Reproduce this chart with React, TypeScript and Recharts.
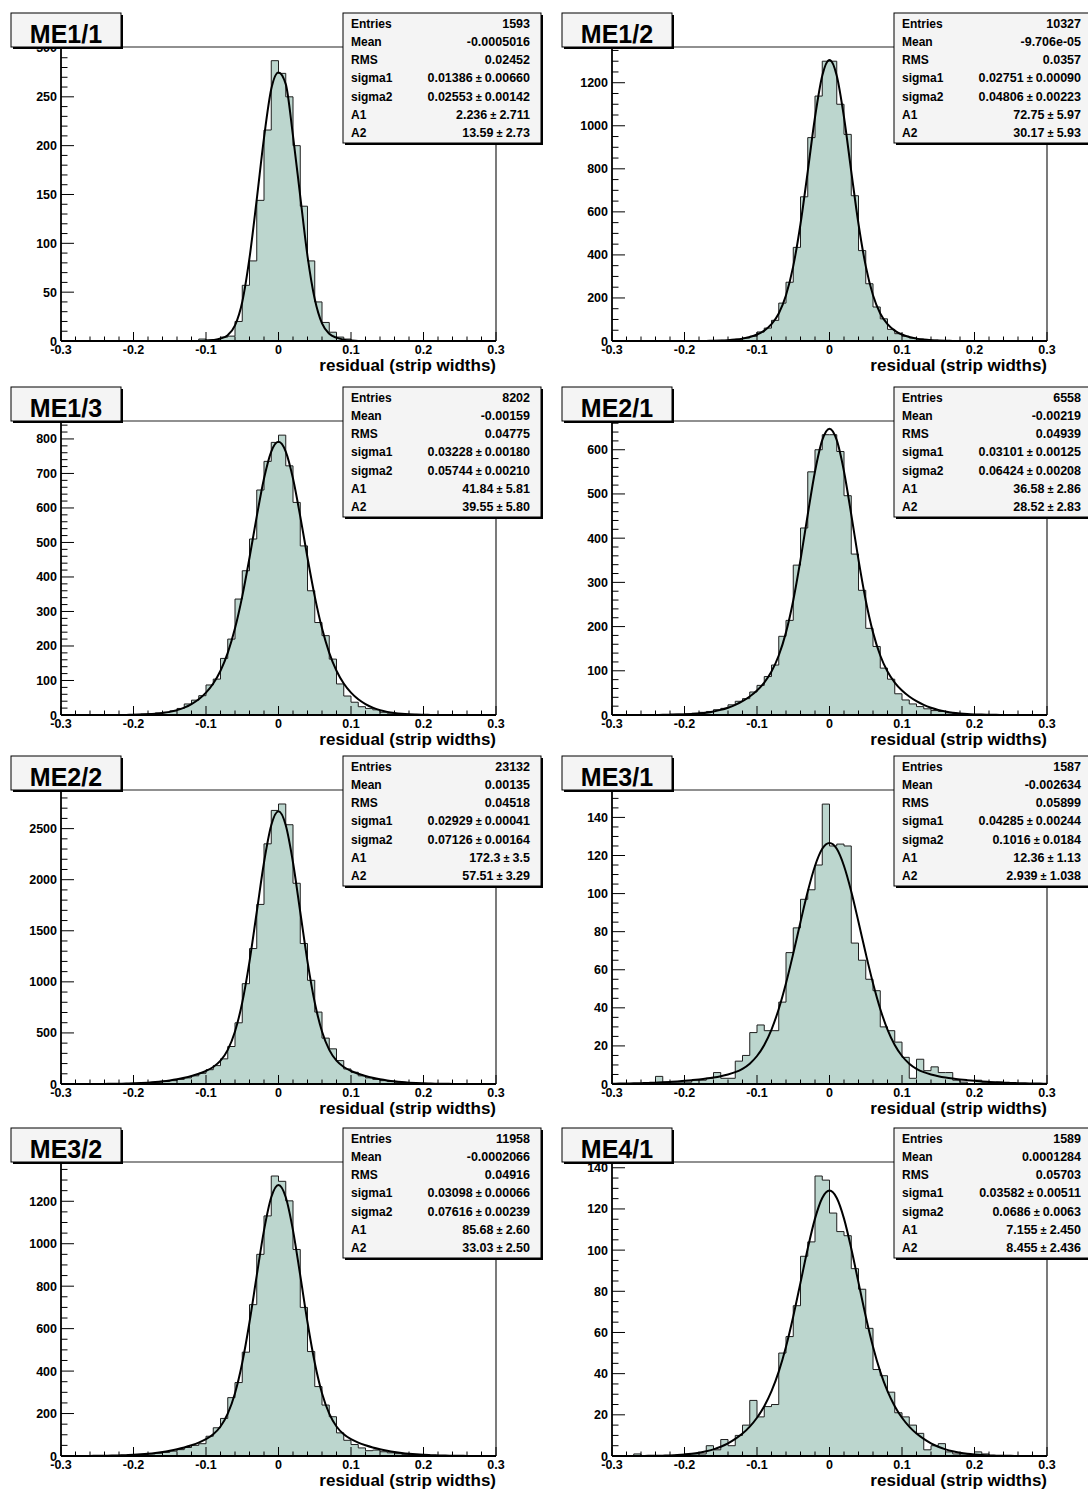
import React from 'react'
import { ComposedChart, Area, Line, XAxis, YAxis, ReferenceLine } from 'recharts'

const FONT = '"Liberation Sans", Arial, Helvetica, sans-serif'
const FILL = '#bcd6ce'

// bin edges: 60 bins of 0.01 from -0.3 to 0.3
const binEdges = Array.from({ length: 61 }, (_, i) => Math.round((-0.3 + i * 0.01) * 100) / 100)
const xMajor = [-0.3, -0.2, -0.1, 0, 0.1, 0.2, 0.3]
const xTicks = Array.from({ length: 31 }, (_, i) => Math.round((-0.3 + i * 0.02) * 100) / 100)

const chambers = ['ME1/1', 'ME1/2', 'ME1/3', 'ME2/1', 'ME2/2', 'ME3/1', 'ME3/2', 'ME4/1']
const statLabels = ['Entries', 'Mean', 'RMS', 'sigma1', 'sigma2', 'A1', 'A2']

const statsME11 = ['1593', '-0.0005016', '0.02452', '0.01386 ± 0.00660', '0.02553 ± 0.00142', '2.236 ± 2.711', '13.59 ± 2.73']
const statsME12 = ['10327', '-9.706e-05', '0.0357', '0.02751 ± 0.00090', '0.04806 ± 0.00223', '72.75 ± 5.97', '30.17 ± 5.93']
const statsME13 = ['8202', '-0.00159', '0.04775', '0.03228 ± 0.00180', '0.05744 ± 0.00210', '41.84 ± 5.81', '39.55 ± 5.80']
const statsME21 = ['6558', '-0.00219', '0.04939', '0.03101 ± 0.00125', '0.06424 ± 0.00208', '36.58 ± 2.86', '28.52 ± 2.83']
const statsME22 = ['23132', '0.00135', '0.04518', '0.02929 ± 0.00041', '0.07126 ± 0.00164', '172.3 ± 3.5', '57.51 ± 3.29']
const statsME31 = ['1587', '-0.002634', '0.05899', '0.04285 ± 0.00244', '0.1016 ± 0.0184', '12.36 ± 1.13', '2.939 ± 1.038']
const statsME32 = ['11958', '-0.0002066', '0.04916', '0.03098 ± 0.00066', '0.07616 ± 0.00239', '85.68 ± 2.60', '33.03 ± 2.50']
const statsME41 = ['1589', '0.0001284', '0.05703', '0.03582 ± 0.00511', '0.0686 ± 0.0063', '7.155 ± 2.450', '8.455 ± 2.436']

// histogram contents, one value per bin
const countsME11 = [
  0, 0, 0, 0, 0, 0, 0, 0, 0, 0, 0, 0, 0, 0, 0, 0, 0, 0, 0, 2,
  1, 1, 4, 5, 20, 57, 82, 144, 216, 287, 274, 250, 200, 138, 82, 40, 19, 9, 4, 2,
  0, 0, 0, 0, 0, 0, 0, 0, 0, 0, 0, 0, 0, 0, 0, 0, 0, 0, 0, 0,
]
const countsME12 = [
  0, 0, 0, 0, 0, 0, 0, 0, 0, 0, 0, 0, 0, 1, 2, 3, 5, 8, 14, 22,
  42, 60, 96, 176, 273, 435, 670, 945, 1138, 1300, 1300, 1100, 960, 675, 420, 266, 158, 103, 54, 34,
  22, 14, 9, 6, 4, 2, 1, 0, 0, 0, 0, 0, 0, 0, 0, 0, 0, 0, 0, 0,
]
const countsME13 = [
  0, 0, 0, 0, 0, 0, 0, 0, 0, 1, 2, 3, 4, 6, 8, 12, 19, 32, 43, 56,
  87, 104, 164, 220, 336, 418, 510, 652, 735, 790, 811, 722, 616, 490, 360, 268, 230, 162, 90, 55,
  37, 24, 19, 15, 8, 5, 3, 2, 1, 0, 0, 0, 0, 0, 0, 0, 0, 0, 0, 0,
]
const countsME21 = [
  0, 0, 0, 0, 0, 0, 1, 1, 2, 2, 3, 4, 6, 8, 12, 15, 23, 31, 37, 52,
  67, 87, 113, 178, 214, 339, 423, 550, 600, 634, 634, 596, 496, 364, 282, 196, 155, 106, 81, 48,
  34, 25, 19, 14, 10, 8, 5, 3, 2, 1, 1, 0, 0, 0, 0, 0, 0, 0, 0, 0,
]
const countsME22 = [
  0, 0, 0, 0, 0, 1, 1, 2, 3, 4, 6, 8, 12, 17, 24, 33, 45, 60, 80, 105,
  140, 180, 246, 367, 599, 982, 1326, 1758, 2351, 2678, 2741, 2538, 1965, 1375, 1015, 704, 449, 344, 229, 147,
  115, 80, 60, 45, 33, 24, 17, 12, 8, 6, 4, 3, 2, 1, 1, 0, 0, 0, 0, 0,
]
const countsME31 = [
  0, 0, 0, 0, 0, 0, 4, 1, 1, 1, 1, 2, 2, 3, 6, 3, 3, 12, 15, 27,
  31, 28, 28, 43, 69, 82, 97, 102, 115, 147, 125, 126, 125, 74, 65, 55, 49, 30, 28, 22,
  14, 3, 13, 7, 9, 6, 6, 2, 1, 0, 2, 1, 0, 1, 0, 0, 0, 0, 0, 0,
]
const countsME32 = [
  0, 0, 0, 0, 0, 1, 1, 2, 3, 4, 5, 7, 10, 13, 17, 23, 30, 40, 50, 58,
  93, 133, 177, 275, 346, 489, 713, 950, 1131, 1319, 1294, 1202, 973, 700, 492, 327, 240, 185, 109, 74,
  54, 38, 25, 28, 20, 15, 11, 8, 6, 4, 3, 2, 1, 1, 0, 0, 0, 0, 0, 0,
]
const countsME41 = [
  0, 0, 0, 1, 0, 0, 0, 0, 0, 0, 1, 1, 1, 5, 3, 8, 5, 10, 15, 27,
  19, 24, 25, 50, 58, 73, 97, 104, 136, 134, 118, 109, 107, 91, 81, 62, 42, 39, 31, 21,
  19, 15, 11, 3, 5, 6, 2, 1, 1, 0, 2, 1, 0, 0, 0, 0, 0, 0, 0, 0,
]

// fitted double-gaussian read at every bin edge
const fitME11 = [
  0, 0, 0, 0, 0, 0, 0, 0, 0, 0, 0, 0, 0, 0, 0, 0, 0, 0, 0, 0,
  0.3, 1, 2.5, 6, 16, 40, 85, 145, 208, 258, 275, 263, 210, 148, 87, 43, 18, 7.5, 3.4, 1.4, 0.5,
  0, 0, 0, 0, 0, 0, 0, 0, 0, 0, 0, 0, 0, 0, 0, 0, 0, 0, 0, 0,
]
const fitME12 = [
  0, 0, 0, 0, 0, 0, 0, 0, 0, 0, 0,
  0.1, 0.22, 0.48, 1.0, 1.9, 3.6, 6.5, 11.1, 18.6, 30.1, 48.4, 78.1, 128.1, 212.7, 348.0, 543.7, 788.2, 1039.5, 1232.6,
  1305.4,
  1232.6, 1039.5, 788.2, 543.7, 348.0, 212.7, 128.1, 78.1, 48.4, 30.1, 18.6, 11.1, 6.5, 3.6, 1.9, 1.0, 0.48, 0.22, 0.1,
  0, 0, 0, 0, 0, 0, 0, 0, 0, 0, 0,
]
const fitME13 = [
  0, 0, 0, 0, 0, 0, 0, 0,
  0.17, 0.3, 0.6, 1.2, 2.0, 3.4, 5.7, 9.1, 14.1, 21.2, 31.5, 45.5, 64.7, 91.1, 128.1, 180.0, 251.1, 343.9, 455.6, 575.5, 685.3, 763.5,
  791.8,
  763.5, 685.3, 575.5, 455.6, 343.9, 251.1, 180.0, 128.1, 91.1, 64.7, 45.5, 31.5, 21.2, 14.1, 9.1, 5.7, 3.4, 2.0, 1.2, 0.6, 0.3, 0.17,
  0, 0, 0, 0, 0, 0, 0, 0,
]
const fitME21 = [
  0, 0, 0, 0, 0,
  0.09, 0.16, 0.29, 0.5, 0.85, 1.4, 2.2, 3.5, 5.3, 8.0, 11.6, 16.5, 22.9, 31.2, 41.8, 55.3, 73.4, 98.5, 134.6, 186.9, 259.1, 350.7, 453.5, 550.9, 621.7,
  647.7,
  621.7, 550.9, 453.5, 350.7, 259.1, 186.9, 134.6, 98.5, 73.4, 55.3, 41.8, 31.2, 22.9, 16.5, 11.6, 8.0, 5.3, 3.5, 2.2, 1.4, 0.85, 0.5, 0.29, 0.16, 0.09,
  0, 0, 0, 0, 0,
]
const fitME22 = [
  0.05, 0.08, 0.14, 0.25, 0.4, 0.7, 1.1, 1.8, 2.7, 4.2, 6.3, 9.2, 13.3, 18.7, 25.9, 35.1, 46.7, 61.0, 78.5, 99.8,
  127.2, 165.9, 227.8, 333.8, 513.8, 798.3, 1198.8, 1683.8, 2168.5, 2532.7,
  2668.8,
  2532.7, 2168.5, 1683.8, 1198.8, 798.3, 513.8, 333.8, 227.8, 165.9, 127.2,
  99.8, 78.5, 61.0, 46.7, 35.1, 25.9, 18.7, 13.3, 9.2, 6.3, 4.2, 2.7, 1.8, 1.1, 0.7, 0.4, 0.25, 0.14, 0.08, 0.05,
]
const fitME31 = [
  0.15, 0.2, 0.26, 0.34, 0.44, 0.56, 0.71, 0.89, 1.11, 1.36, 1.66, 2.01, 2.4, 2.85, 3.4, 4.1, 5.0, 6.2, 8.0, 10.7,
  14.7, 20.5, 28.6, 39.4, 52.9, 68.5, 85.1, 101.1, 114.5, 123.5,
  126.6,
  123.5, 114.5, 101.1, 85.1, 68.5, 52.9, 39.4, 28.6, 20.5, 14.7,
  10.7, 8.0, 6.2, 5.0, 4.1, 3.4, 2.85, 2.4, 2.01, 1.66, 1.36, 1.11, 0.89, 0.71, 0.56, 0.44, 0.34, 0.26, 0.2, 0.15,
]
const fitME32 = [
  0.08, 0.12, 0.2, 0.33, 0.5, 0.8, 1.2, 1.8, 2.7, 3.9, 5.5, 7.7, 10.6, 14.3, 19.0, 24.9, 31.9, 40.3, 50.6, 63.0,
  79.1, 102.3, 138.9, 199.3, 295.9, 439.5, 630.1, 850.5, 1063.0, 1218.9,
  1276.4,
  1218.9, 1063.0, 850.5, 630.1, 439.5, 295.9, 199.3, 138.9, 102.3, 79.1,
  63.0, 50.6, 40.3, 31.9, 24.9, 19.0, 14.3, 10.6, 7.7, 5.5, 3.9, 2.7, 1.8, 1.2, 0.8, 0.5, 0.33, 0.2, 0.12, 0.08,
]
const fitME41 = [
  0, 0, 0.01, 0.02, 0.04, 0.07, 0.11, 0.18, 0.29, 0.45, 0.7, 1.06, 1.57, 2.28, 3.24, 4.5, 6.13, 8.3, 10.9, 14.3,
  18.6, 24.2, 31.5, 41.0, 53.1, 67.8, 84.2, 100.8, 115.3, 125.3,
  128.9,
  125.3, 115.3, 100.8, 84.2, 67.8, 53.1, 41.0, 31.5, 24.2, 18.6,
  14.3, 10.9, 8.3, 6.13, 4.5, 3.24, 2.28, 1.57, 1.06, 0.7, 0.45, 0.29, 0.18, 0.11, 0.07, 0.04, 0.02, 0.01, 0, 0,
]

const yMaxes = [301, 1366, 852, 665, 2878, 154.4, 1385, 142.8]
const yMajorME11 = [0, 50, 100, 150, 200, 250, 300]
const yMajorME12 = [0, 200, 400, 600, 800, 1000, 1200]
const yMajorME13 = [0, 100, 200, 300, 400, 500, 600, 700, 800]
const yMajorME21 = [0, 100, 200, 300, 400, 500, 600]
const yMajorME22 = [0, 500, 1000, 1500, 2000, 2500]
const yMajorME31 = [0, 20, 40, 60, 80, 100, 120, 140]
const yMajorME32 = [0, 200, 400, 600, 800, 1000, 1200]
const yMajorME41 = [0, 20, 40, 60, 80, 100, 120, 140]
const yMinorSteps = [10, 50, 20, 20, 100, 5, 50, 5]

const allStats = [statsME11, statsME12, statsME13, statsME21, statsME22, statsME31, statsME32, statsME41]
const allCounts = [countsME11, countsME12, countsME13, countsME21, countsME22, countsME31, countsME32, countsME41]
const allFits = [fitME11, fitME12, fitME13, fitME21, fitME22, fitME31, fitME32, fitME41]
const allMajors = [yMajorME11, yMajorME12, yMajorME13, yMajorME21, yMajorME22, yMajorME31, yMajorME32, yMajorME41]

const colX = [0, 551]
const rowY = [0, 374, 743, 1115]

const labelStyle = { fill: '#000', fontSize: 12.5, fontWeight: 700, fontFamily: FONT }

// ROOT style: ticks point into the frame, long ones carry a label
function makeYTick(majors: number[]) {
  return (props: any) => {
    const { x, y, payload } = props
    const v = payload.value
    const major = majors.includes(v)
    const ax = x + 4
    return (
      <g>
        <line x1={ax} x2={ax + (major ? 13 : 6.5)} y1={y} y2={y} stroke="#000" strokeWidth={1} />
        {major && (
          <text x={x} y={y} dy="0.36em" textAnchor="end" {...labelStyle}>
            {v}
          </text>
        )}
      </g>
    )
  }
}

function xTick(props: any) {
  const { x, y, payload } = props
  const v = payload.value
  const major = xMajor.includes(v)
  const ay = y - 4
  return (
    <g>
      <line x1={x} x2={x} y1={ay} y2={ay - (major ? 9 : 4.5)} stroke="#000" strokeWidth={1} />
      {major && (
        <text x={x} y={y} dy="0.72em" textAnchor="middle" {...labelStyle}>
          {v}
        </text>
      )}
    </g>
  )
}

function StatValue({ text }: { text: string }) {
  const parts = text.split(' ± ')
  if (parts.length < 2) return <>{text}</>
  return (
    <>
      {parts[0]}
      <tspan fontSize={11}> ± </tspan>
      {parts[1]}
    </>
  )
}

function Overlay({ name, stats }: { name: string; stats: string[] }) {
  return (
    <svg
      width={544}
      height={380}
      style={{ position: 'absolute', left: 0, top: 0, pointerEvents: 'none', overflow: 'visible' }}
      fontFamily={FONT}
      fontWeight={700}
    >
      {/* title box */}
      <rect x={13} y={15} width={110} height={34} fill="#000" />
      <rect x={11} y={13} width={110} height={34} fill="#f4f4f4" stroke="#000" strokeWidth={1} />
      <text x={66} y={43} fontSize={25} textAnchor="middle" fill="#000">
        {name}
      </text>

      {/* stats box */}
      <rect x={345} y={15} width={198} height={130} fill="#000" />
      <rect x={343} y={13} width={198} height={130} fill="#f4f4f4" stroke="#000" strokeWidth={1} />
      {statLabels.map((lab, i) => (
        <g key={lab}>
          <text x={351} y={27.5 + i * 18.3} fontSize={12} fill="#000">
            {lab}
          </text>
          <text x={530} y={27.5 + i * 18.3} fontSize={12.5} textAnchor="end" fill="#000">
            <StatValue text={stats[i]} />
          </text>
        </g>
      ))}

      <text x={496} y={371} fontSize={17} textAnchor="end" fill="#000">
        residual (strip widths)
      </text>
    </svg>
  )
}

function Panel({ idx }: { idx: number }) {
  const counts = allCounts[idx]
  const fit = allFits[idx]
  const ymax = yMaxes[idx]
  const yMajor = allMajors[idx]
  const step = yMinorSteps[idx]

  const data = binEdges.map((x, i) => ({
    x,
    h: counts[Math.min(i, counts.length - 1)],
    f: fit[i],
  }))

  const yTicks: number[] = []
  for (let v = 0; v <= ymax + 1e-9; v += step) yTicks.push(Math.round(v * 1000) / 1000)

  const left = colX[idx % 2]
  const top = rowY[Math.floor(idx / 2)]

  return (
    <div style={{ position: 'absolute', left, top, width: 544, height: 372 }}>
      <ComposedChart width={544} height={372} data={data} margin={{ top: 47, right: 48, bottom: 11, left: 11 }}>
        <XAxis
          xAxisId="main"
          type="number"
          dataKey="x"
          domain={[-0.3, 0.3]}
          ticks={xTicks}
          interval={0}
          height={20}
          tickLine={false}
          tickSize={2}
          tickMargin={2}
          axisLine={{ stroke: '#000', strokeWidth: 1.8 }}
          tick={xTick}
          allowDataOverflow
        />
        <YAxis
          yAxisId="main"
          type="number"
          domain={[0, ymax]}
          ticks={yTicks}
          interval={0}
          width={50}
          tickLine={false}
          tickSize={2}
          tickMargin={2}
          axisLine={{ stroke: '#000', strokeWidth: 1.8 }}
          tick={makeYTick(yMajor)}
          allowDataOverflow
        />
        <Area
          xAxisId="main"
          yAxisId="main"
          type="stepAfter"
          dataKey="h"
          stroke="#1e1e1e"
          strokeWidth={1}
          fill={FILL}
          fillOpacity={1}
          dot={false}
          activeDot={false}
          isAnimationActive={false}
        />
        <Line
          xAxisId="main"
          yAxisId="main"
          type="monotone"
          dataKey="f"
          stroke="#000"
          strokeWidth={2}
          dot={false}
          activeDot={false}
          isAnimationActive={false}
        />
        <ReferenceLine xAxisId="main" yAxisId="main" y={ymax} stroke="#222" strokeWidth={1.2} />
        <ReferenceLine xAxisId="main" yAxisId="main" x={0.3} stroke="#222" strokeWidth={1.2} />
      </ComposedChart>
      <Overlay name={chambers[idx]} stats={allStats[idx]} />
    </div>
  )
}

export default function App() {
  return (
    <div
      style={{
        position: 'absolute',
        left: 0,
        top: 0,
        width: 1088,
        height: 1492,
        overflow: 'hidden',
        background: '#fff',
        fontFamily: FONT,
      }}
    >
      {chambers.map((c, i) => (
        <Panel key={c} idx={i} />
      ))}
    </div>
  )
}
